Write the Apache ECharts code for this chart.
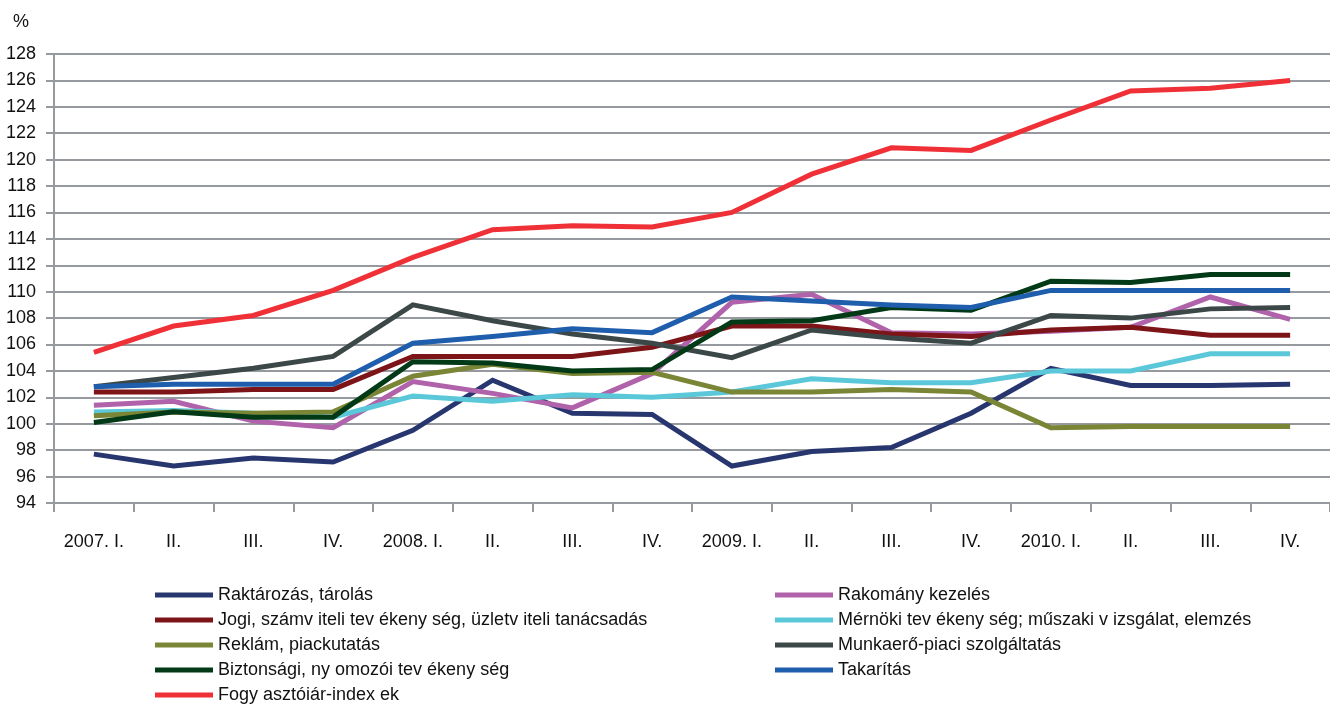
<!DOCTYPE html>
<html>
<head>
<meta charset="utf-8">
<script src="https://cdn.jsdelivr.net/npm/echarts@6/dist/echarts.min.js"></script>
<style>
html, body { margin: 0; padding: 0; background: #fff; }
#chart { width: 1330px; height: 706px; }
</style>
</head>
<body>
<div id="chart"></div>
<script>
var quarters = ['2007. I.', 'II.', 'III.', 'IV.', '2008. I.', 'II.', 'III.', 'IV.',
                '2009. I.', 'II.', 'III.', 'IV.', '2010. I.', 'II.', 'III.', 'IV.'];

var raktarozas  = [97.7, 96.8, 97.4, 97.1, 99.5, 103.3, 100.8, 100.7, 96.8, 97.9, 98.2, 100.8, 104.2, 102.9, 102.9, 103.0];
var rakomany    = [101.4, 101.7, 100.2, 99.7, 103.2, 102.3, 101.2, 103.8, 109.2, 109.8, 106.9, 106.8, 107.0, 107.3, 109.6, 107.9];
var jogi        = [102.4, 102.4, 102.6, 102.6, 105.1, 105.1, 105.1, 105.8, 107.4, 107.4, 106.8, 106.6, 107.1, 107.3, 106.7, 106.7];
var mernoki     = [100.9, 101.0, 100.8, 100.5, 102.1, 101.7, 102.2, 102.0, 102.4, 103.4, 103.1, 103.1, 104.0, 104.0, 105.3, 105.3];
var reklam      = [100.6, 100.9, 100.8, 100.9, 103.6, 104.5, 103.8, 103.9, 102.4, 102.4, 102.6, 102.4, 99.7, 99.8, 99.8, 99.8];
var munkaero    = [102.8, 103.5, 104.2, 105.1, 109.0, 107.8, 106.8, 106.1, 105.0, 107.1, 106.5, 106.1, 108.2, 108.0, 108.7, 108.8];
var biztonsagi  = [100.1, 100.9, 100.5, 100.5, 104.7, 104.6, 104.0, 104.1, 107.7, 107.8, 108.8, 108.6, 110.8, 110.7, 111.3, 111.3];
var takaritas   = [102.8, 103.0, 103.0, 103.0, 106.1, 106.6, 107.2, 106.9, 109.6, 109.3, 109.0, 108.8, 110.1, 110.1, 110.1, 110.1];
var fogyasztoi  = [105.4, 107.4, 108.2, 110.1, 112.6, 114.7, 115.0, 114.9, 116.0, 118.9, 120.9, 120.7, 123.0, 125.2, 125.4, 126.0];

var names = {
    raktarozas: 'Raktározás, tárolás',
    rakomany: 'Rakomány kezelés',
    jogi: 'Jogi, számv iteli tev ékeny ség, üzletv iteli tanácsadás',
    mernoki: 'Mérnöki tev ékeny ség; műszaki v izsgálat, elemzés',
    reklam: 'Reklám, piackutatás',
    munkaero: 'Munkaerő-piaci szolgáltatás',
    biztonsagi: 'Biztonsági, ny omozói tev ékeny ség',
    takaritas: 'Takarítás',
    fogyasztoi: 'Fogy asztóiár-index ek'
};

var fontFam = "'Liberation Sans Narrow', 'Liberation Sans', Arial, sans-serif";

function line(name, data, color) {
    return {
        name: name,
        type: 'line',
        data: data,
        showSymbol: false,
        symbol: 'none',
        lineStyle: { color: color, width: 5, join: 'miter' },
        itemStyle: { color: color }
    };
}

var legendBase = {
    orient: 'vertical',
    icon: 'rect',
    padding: 0,
    itemWidth: 58,
    itemHeight: 5,
    itemGap: 5,
    textStyle: { fontFamily: fontFam, fontSize: 18, color: '#111', lineHeight: 20 }
};

var chart = echarts.init(document.getElementById('chart'));
chart.setOption({
    animation: false,
    backgroundColor: '#fff',
    title: {
        text: '%',
        left: 8,
        top: 8,
        textStyle: { fontFamily: fontFam, fontSize: 18, fontWeight: 'normal', color: '#111' }
    },
    grid: { left: 54, right: 0, top: 54, bottom: 203 },
    legend: [
        Object.assign({}, legendBase, {
            left: 155, top: 585,
            data: [names.raktarozas, names.jogi, names.reklam, names.biztonsagi, names.fogyasztoi]
        }),
        Object.assign({}, legendBase, {
            left: 775, top: 585,
            data: [names.rakomany, names.mernoki, names.munkaero, names.takaritas]
        })
    ],
    xAxis: {
        type: 'category',
        data: quarters,
        boundaryGap: true,
        axisLine: { lineStyle: { color: '#969a9e', width: 2 } },
        axisTick: { show: true, length: 9, interval: 0, lineStyle: { color: '#969a9e', width: 2 } },
        axisLabel: { interval: 0, margin: 30, fontFamily: fontFam, fontSize: 18, color: '#111' }
    },
    yAxis: {
        type: 'value',
        min: 94,
        max: 128,
        interval: 2,
        axisLine: { show: true, lineStyle: { color: '#969a9e', width: 2 } },
        axisTick: { show: true, length: 8, lineStyle: { color: '#969a9e', width: 2 } },
        axisLabel: { margin: 18, fontFamily: fontFam, fontSize: 18, color: '#111' },
        splitLine: { lineStyle: { color: '#969a9e', width: 2 } }
    },
    series: [
        line(names.raktarozas, raktarozas, '#283670'),
        line(names.rakomany, rakomany, '#b062aa'),
        line(names.jogi, jogi, '#7d1418'),
        line(names.mernoki, mernoki, '#5ac8d9'),
        line(names.reklam, reklam, '#7a8535'),
        line(names.munkaero, munkaero, '#3c4848'),
        line(names.biztonsagi, biztonsagi, '#023a17'),
        line(names.takaritas, takaritas, '#1f5ead'),
        line(names.fogyasztoi, fogyasztoi, '#f03037')
    ]
});
</script>
</body>
</html>
